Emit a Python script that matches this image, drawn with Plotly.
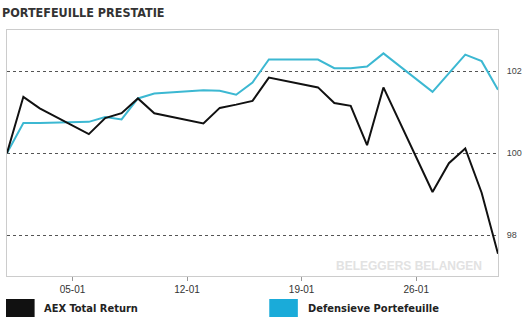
import plotly.graph_objects as go

dates = ["2014-01-01", "2014-01-02", "2014-01-03", "2014-01-06", "2014-01-07", "2014-01-08",
         "2014-01-09", "2014-01-10", "2014-01-13", "2014-01-14", "2014-01-15", "2014-01-16",
         "2014-01-17", "2014-01-20", "2014-01-21", "2014-01-22", "2014-01-23", "2014-01-24",
         "2014-01-27", "2014-01-28", "2014-01-29", "2014-01-30", "2014-01-31"]
aex = [100.0, 101.37, 101.09, 100.46, 100.85, 100.97, 101.33, 100.97, 100.72, 101.10,
       101.18, 101.27, 101.84, 101.60, 101.22, 101.15, 100.19, 101.60, 99.05, 99.75,
       100.11, 99.03, 97.54]
defensief = [100.0, 100.73, 100.73, 100.76, 100.88, 100.82, 101.33, 101.45, 101.53, 101.52,
             101.42, 101.72, 102.28, 102.28, 102.07, 102.07, 102.11, 102.43, 101.49, 101.95,
             102.40, 102.24, 101.54]
tick_dates = ["2014-01-05", "2014-01-12", "2014-01-19", "2014-01-26"]
tick_labels = ["05-01", "12-01", "19-01", "26-01"]
y_ticks = [98, 100, 102]
series_names = ["AEX Total Return", "Defensieve Portefeuille"]

BLACK = "#111111"
CYAN_LINE = "#3cb8d2"
CYAN_BOX = "#1aabd9"
COND = "Liberation Sans Narrow, DejaVu Sans Condensed, Arial Narrow, sans-serif"

fig = go.Figure()
fig.add_trace(go.Scatter(x=dates, y=defensief, mode="lines", name=series_names[1],
                         line=dict(color=CYAN_LINE, width=2)))
fig.add_trace(go.Scatter(x=dates, y=aex, mode="lines", name=series_names[0],
                         line=dict(color=BLACK, width=2)))

fig.update_layout(
    width=528, height=320,
    margin=dict(l=6, r=24, t=30, b=44),
    paper_bgcolor="white", plot_bgcolor="white",
    showlegend=False,
    xaxis=dict(type="date", range=["2014-01-01", "2014-01-31"],
               tickvals=tick_dates, ticktext=tick_labels,
               ticks="outside", ticklen=4, tickcolor="#999999",
               tickfont=dict(family="Arial, Liberation Sans, sans-serif", size=10, color="#333333"),
               showgrid=False, showline=True, linecolor="#cccccc", linewidth=1, mirror=True,
               zeroline=False),
    yaxis=dict(range=[97, 103], side="right", tickvals=y_ticks,
               ticks="", tickfont=dict(family="Arial, Liberation Sans, sans-serif", size=9, color="#444444"),
               showgrid=True, gridcolor="#555555", gridwidth=1, griddash="dot",
               showline=True, linecolor="#cccccc", linewidth=1, mirror=True,
               zeroline=False, ticklabelstandoff=6),
)

# Title
fig.add_annotation(text="<b>PORTEFEUILLE PRESTATIE</b>", xref="paper", yref="paper",
                   x=-7 / 498, y=1 + 27 / 246, xanchor="left", yanchor="top", showarrow=False,
                   font=dict(family=COND, size=12.5, color="#333333"))

# Watermark
fig.add_annotation(text="<b>BELEGGERS BELANGEN</b>", xref="paper", yref="paper",
                   x=0.972, y=0.005, xanchor="right", yanchor="bottom", showarrow=False,
                   font=dict(family="Arial, Liberation Sans, sans-serif", size=12, color="#e2e2e2"))

# Legend (custom)
legend_items = [(series_names[0], BLACK, 5), (series_names[1], CYAN_BOX, 272)]
for name, col, px in legend_items:
    x0 = (px - 6) / 498
    x1 = (px + 29 - 6) / 498
    fig.add_shape(type="rect", xref="paper", yref="paper", x0=x0, x1=x1,
                  y0=-(317 - 276) / 246, y1=-(299 - 276) / 246,
                  fillcolor=col, line=dict(width=0))
    fig.add_annotation(text="<b>" + name + "</b>", xref="paper", yref="paper",
                       x=(px + 37 - 6) / 498, y=-(308 - 276) / 246, xanchor="left", yanchor="middle",
                       showarrow=False, font=dict(family=COND, size=11, color="#222222"))

fig.write_html("out.html")
